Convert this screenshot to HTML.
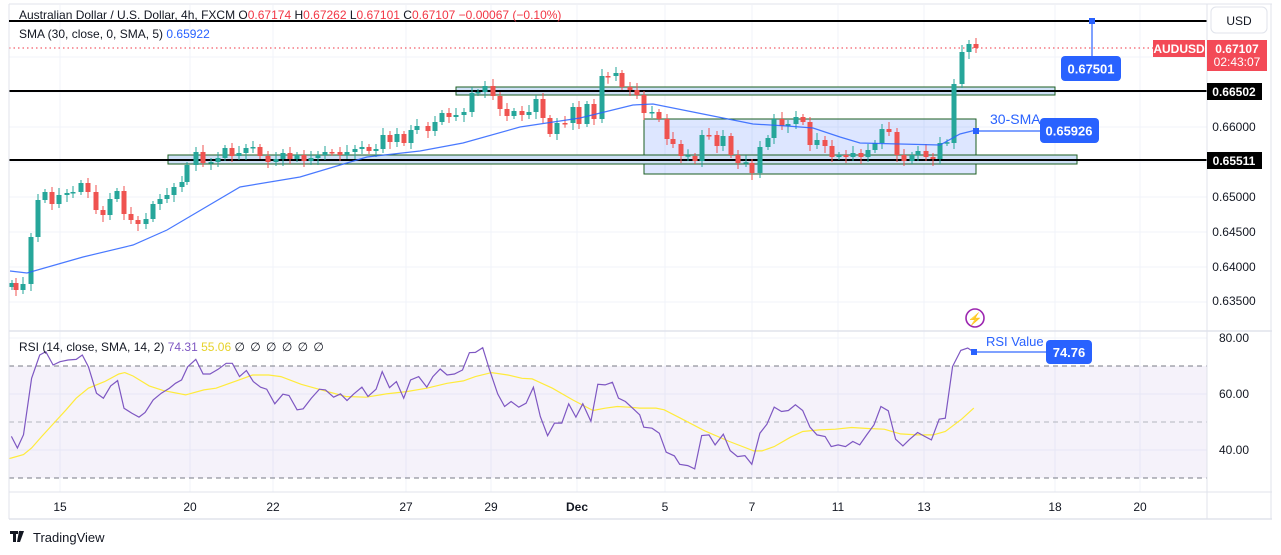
<!DOCTYPE html>
<html><head><meta charset="utf-8">
<style>
html,body{margin:0;padding:0;background:#fff;}
svg{display:block;font-family:"Liberation Sans",sans-serif;}
</style></head>
<body>
<svg id="s" width="1281" height="555" viewBox="0 0 1281 555" xmlns="http://www.w3.org/2000/svg">
<defs><clipPath id="cp"><rect x="9.5" y="5" width="1197" height="487"/></clipPath></defs>
<rect width="1281" height="555" fill="#fff"/>
<g id="grid" stroke="#f0f3fa" stroke-width="1"></g>
<rect x="9" y="366" width="1198" height="112" fill="#7e57c2" fill-opacity="0.08"/>
<line x1="9" y1="366" x2="1207" y2="366" stroke="#787b86" stroke-dasharray="5,4"/>
<line x1="9" y1="422" x2="1207" y2="422" stroke="#b2b5be" stroke-dasharray="5,4"/>
<line x1="9" y1="478" x2="1207" y2="478" stroke="#787b86" stroke-dasharray="5,4"/>
<rect x="644" y="119" width="332" height="55" fill="#2962ff" fill-opacity="0.16" stroke="#1b5e20" stroke-width="1"/>
<rect x="456" y="87" width="599" height="8" fill="#cfe0f7" stroke="#1b5e20" stroke-width="1"/>
<rect x="168" y="155" width="909" height="9" fill="#cfe0f7" stroke="#1b5e20" stroke-width="1"/>
<line x1="9" y1="21" x2="1207" y2="21" stroke="#000" stroke-width="2"/>
<line x1="9" y1="91" x2="1207" y2="91" stroke="#000" stroke-width="2"/>
<line x1="9" y1="160" x2="1207" y2="160" stroke="#000" stroke-width="2"/>
<line x1="9" y1="48" x2="1153" y2="48" stroke="#f23645" stroke-dasharray="1.5,3"/>
<g id="candles" clip-path="url(#cp)"></g>
<g clip-path="url(#cp)">
<polyline id="sma" fill="none" stroke="#2962ff" stroke-width="1.2" stroke-opacity="0.85"/>
<polyline id="rsisma" fill="none" stroke="#ffeb3b" stroke-width="1.2"/>
<polyline id="rsi" fill="none" stroke="#7e57c2" stroke-width="1.2"/>
</g>
<line x1="1092" y1="21" x2="1092" y2="56" stroke="#2962ff" stroke-opacity="0.6" stroke-width="2"/>
<rect x="1089" y="18" width="6" height="6" fill="#2962ff"/>
<rect x="1061" y="56" width="60" height="25" rx="4" fill="#2962ff"/>
<text x="1091" y="73.5" font-size="13" font-weight="bold" fill="#fff" text-anchor="middle">0.67501</text>
<line x1="976" y1="131" x2="1040" y2="131" stroke="#2962ff" stroke-opacity="0.6" stroke-width="2"/>
<rect x="973" y="128" width="6" height="6" fill="#2962ff"/>
<text x="990" y="124" font-size="14" fill="#2962ff">30-SMA</text>
<rect x="1040" y="118" width="59" height="25" rx="4" fill="#2962ff"/>
<text x="1069" y="135.5" font-size="13" font-weight="bold" fill="#fff" text-anchor="middle">0.65926</text>
<line x1="974" y1="352" x2="1046" y2="352" stroke="#2962ff" stroke-opacity="0.6" stroke-width="2"/>
<rect x="971" y="349" width="6" height="6" fill="#2962ff"/>
<text x="986" y="346" font-size="13" fill="#2962ff">RSI Value</text>
<rect x="1046" y="340" width="46" height="24" rx="4" fill="#2962ff"/>
<text x="1069" y="357" font-size="13" font-weight="bold" fill="#fff" text-anchor="middle">74.76</text>
<circle cx="975" cy="318" r="9" fill="none" stroke="#9c27b0" stroke-width="1.6"/>
<text x="975" y="323" font-size="12" fill="#9c27b0" text-anchor="middle">⚡</text>
<line x1="9" y1="4" x2="1272" y2="4" stroke="#e0e3eb"/>
<line x1="9" y1="4" x2="9" y2="519" stroke="#e0e3eb"/>
<line x1="1207" y1="4" x2="1207" y2="519" stroke="#e0e3eb"/>
<line x1="1271" y1="4" x2="1271" y2="519" stroke="#e0e3eb"/>
<line x1="9" y1="331" x2="1272" y2="331" stroke="#e0e3eb" stroke-width="1.5"/>
<line x1="9" y1="492" x2="1272" y2="492" stroke="#e0e3eb"/>
<line x1="9" y1="519" x2="1272" y2="519" stroke="#e0e3eb" stroke-width="1.5"/>
<text x="19" y="19" font-size="12" fill="#131722">Australian Dollar / U.S. Dollar, 4h, FXCM  O<tspan fill="#f23645">0.67174</tspan>  H<tspan fill="#f23645">0.67262</tspan>  L<tspan fill="#f23645">0.67101</tspan>  C<tspan fill="#f23645">0.67107</tspan>  <tspan fill="#f23645">−0.00067 (−0.10%)</tspan></text>
<line x1="9" y1="21" x2="400" y2="21" stroke="#000" stroke-width="2"/>
<text x="19" y="38" font-size="12" fill="#131722">SMA (30, close, 0, SMA, 5)  <tspan fill="#2962ff">0.65922</tspan></text>
<text x="19" y="351" font-size="12" fill="#131722">RSI (14, close, SMA, 14, 2)  <tspan fill="#7e57c2">74.31</tspan>  <tspan fill="#e6d22a">55.06</tspan>  <tspan letter-spacing="1">∅ ∅ ∅ ∅ ∅ ∅</tspan></text>
<rect x="1211" y="7" width="56" height="26" rx="5" fill="#fff" stroke="#e0e3eb"/>
<text x="1239" y="25" font-size="12" fill="#131722" text-anchor="middle">USD</text>
<rect x="1153" y="40" width="52" height="17" fill="#f23645" fill-opacity="0.9"/>
<text x="1179" y="53" font-size="12" font-weight="bold" fill="#fff" text-anchor="middle">AUDUSD</text>
<rect x="1207" y="40" width="60" height="31" fill="#f23645" fill-opacity="0.9"/>
<text x="1237" y="53" font-size="12" font-weight="bold" fill="#fff" text-anchor="middle">0.67107</text>
<text x="1237" y="66" font-size="12" fill="#fff" text-anchor="middle">02:43:07</text>
<rect x="1207" y="83" width="55" height="17" fill="#000"/>
<text x="1234" y="96" font-size="12" font-weight="bold" fill="#fff" text-anchor="middle">0.66502</text>
<rect x="1207" y="152" width="55" height="17" fill="#000"/>
<text x="1234" y="165" font-size="12" font-weight="bold" fill="#fff" text-anchor="middle">0.65511</text>
<g font-size="12" fill="#131722" text-anchor="middle">
<text x="1234" y="131">0.66000</text>
<text x="1234" y="201">0.65000</text>
<text x="1234" y="236">0.64500</text>
<text x="1234" y="271">0.64000</text>
<text x="1234" y="305">0.63500</text>
<text x="1234" y="342">80.00</text>
<text x="1234" y="398">60.00</text>
<text x="1234" y="454">40.00</text>
</g>
<g font-size="12" fill="#131722" text-anchor="middle">
<text x="60" y="511">15</text><text x="190" y="511">20</text><text x="273" y="511">22</text>
<text x="406" y="511">27</text><text x="491" y="511">29</text><text x="577" y="511" font-weight="bold">Dec</text>
<text x="665" y="511">5</text><text x="752" y="511">7</text><text x="838" y="511">11</text>
<text x="924" y="511">13</text><text x="1055" y="511">18</text><text x="1140" y="511">20</text>
</g>
<rect x="10" y="531" width="8" height="3" fill="#131722"/><rect x="13" y="531" width="3" height="11" fill="#131722"/><polygon points="19,531 24,531 20,542 17,542" fill="#131722"/><circle cx="20.5" cy="532.5" r="1.6" fill="#131722"/>
<text x="33" y="542" font-size="13" fill="#131722">TradingView</text>
</svg>
<script>
var NS="http://www.w3.org/2000/svg";
function el(p,t,a){var e=document.createElementNS(NS,t);for(var k in a)e.setAttribute(k,a[k]);p.appendChild(e);return e;}
var g=document.getElementById("grid");
[57,92,127,162,197,232,267,302,338,394,450].forEach(function(y){el(g,"line",{x1:9,y1:y,x2:1207,y2:y});});
[60,190,273,406,491,577,665,752,838,924,1055,1140].forEach(function(x){el(g,"line",{x1:x,y1:5,x2:x,y2:492});});
var C=[[12,283],[16,290],[23,284],[31,237],[38,200],[45,192],[52,204],[59,195],[67,193],[73,192],[81,183],[88,192],[96,210],[103,215],[110,199],[117,191],[124,214],[131,220],[138,224],[146,219],[153,204],[160,199],[167,195],[174,187],[182,182],[187,165],[196,152],[203,163],[211,162],[218,158],[225,148],[232,156],[239,153],[246,148],[253,147],[260,156],[268,162],[276,159],[283,153],[290,159],[297,155],[304,161],[311,158],[318,155],[325,152],[332,152],[340,155],[347,152],[355,149],[362,147],[369,151],[376,149],[383,135],[390,142],[397,134],[404,143],[411,130],[417,126],[428,131],[435,122],[442,113],[449,117],[456,115],[464,112],[472,93],[478,92],[485,86],[493,96],[500,109],[507,116],[514,111],[522,115],[529,112],[536,99],[543,118],[550,134],[557,123],[565,123],[573,107],[579,124],[587,104],[594,119],[602,76],[608,76],[616,73],[622,87],[630,90],[637,95],[644,113],[652,112],[659,119],[667,139],[673,144],[681,156],[688,156],[695,161],[702,135],[709,135],[717,146],[723,136],[731,155],[738,163],[746,163],[752,173],[760,147],[768,138],[774,119],[782,126],[788,124],[796,117],[803,122],[810,145],[817,140],[825,146],[832,157],[839,155],[846,157],[853,153],[861,157],[868,150],[875,143],[882,129],[889,132],[897,155],[904,161],[912,155],[918,151],[926,157],[933,159],[940,143],[947,143],[954,84],[962,52],[969,44],[976,48]];
var cg=document.getElementById("candles"),prev=C[0][1]+4;
C.forEach(function(c,i){var o=prev,cl=c[1];if(Math.abs(o-cl)<1)cl=o+(i%2?0.8:-0.8);
var up=cl<o,col=up?"#26a69a":"#ef5350",top=Math.min(o,cl),bot=Math.max(o,cl);
var h=top-3-(i*7%5),l=bot+3+(i*3%5);
el(cg,"line",{x1:c[0],y1:h,x2:c[0],y2:l,stroke:col,"stroke-width":1});
el(cg,"rect",{x:c[0]-2.5,y:top,width:5,height:Math.max(1.5,bot-top),fill:col});prev=c[1];});
function pl(id,pts){document.getElementById(id).setAttribute("points",pts.map(function(p){return p[0].toFixed(1)+","+p[1].toFixed(1);}).join(" "));}
pl("sma",[[10,271],[27,273],[83,257],[133,245],[167,230],[240,187],[300,177],[367,157],[420,151],[463,143],[520,127],[580,118],[633,105],[653,104],[693,112],[753,124],[787,126],[813,128],[840,137],[860,143],[900,144],[940,145],[960,134],[976,130]]);
var z6=[[25,410],[40,445],[55,405],[75,235],[95,165],[110,155],[128,195],[145,185],[165,180],[185,178],[200,165],[215,200],[235,280],[252,295],[270,258],[287,242],[303,325],[322,340],[340,352],[355,338],[375,300],[395,280],[415,265],[430,250],[445,240],[460,200],[480,178],[498,222],[515,222],[535,208],[555,190],[570,190],[588,230],[605,212],[622,245],[640,262],[655,268],[675,312],[695,283],[710,287],[730,330],[745,327],[765,295],[785,268],[800,270],[820,292],[837,282],[853,302],[870,282],[890,262],[905,290],[925,268],[940,215],[958,263],[975,245],[993,295],[1010,240],[1030,230],[1050,262],[1065,230],[1083,207],[1100,225],[1118,222],[1138,210],[1155,158],[1170,157],[1188,143],[1205,210],[1225,282],[1242,320],[1258,305],[1277,322],[1295,310],[1313,262],[1330,350],[1348,408],[1365,370],[1383,370],[1400,312],[1418,352],[1435,312],[1455,365],[1472,253],[1490,255],[1508,247],[1523,295],[1540,305]];
var z7=[[0,345],[10,382],[30,385],[48,400],[65,457],[85,468],[98,493],[118,497],[135,507],[152,407],[170,405],[185,435],[205,403],[222,452],[240,470],[258,467],[275,493],[295,400],[312,373],[330,322],[348,335],[365,332],[382,315],[400,332],[418,382],[435,405],[455,410],[470,440],[487,435],[505,440],[523,425],[540,435],[557,405],[575,375],[592,320],[610,333],[628,418],[646,438],[663,418],[682,398],[700,410],[716,420],[735,358],[750,355],[768,200],[788,152],[805,145],[820,157]];
var y6=[[0,482],[25,475],[55,465],[75,445],[100,410],[130,370],[160,330],[185,295],[215,265],[255,245],[290,222],[305,218],[325,228],[365,258],[400,272],[455,285],[500,270],[530,265],[580,243],[620,225],[660,225],[690,230],[740,253],[790,270],[850,290],[900,292],[950,282],[1000,275],[1050,265],[1100,250],[1140,243],[1170,230],[1210,218],[1250,225],[1285,235],[1310,237],[1360,265],[1410,300],[1460,332],[1490,325],[1520,320],[1550,322]];
var y7=[[0,325],[40,325],[60,330],[100,355],[160,393],[220,425],[280,453],[300,453],[330,440],[370,412],[400,395],[440,390],[480,388],[520,383],[560,386],[600,388],[640,402],[680,405],[720,405],[750,395],[790,358],[820,325]];
function c6(p){return [60+(p[0]-145)*0.4053,366+(p[1]-198)*0.332];}
function c7(p){return [665+(p[0]-62)*0.4074,338+(p[1]-115)*0.334];}
pl("rsi",z6.map(c6).concat(z7.map(c7)));
pl("rsisma",y6.map(c6).concat(y7.map(c7)));
</script>
</body></html>
